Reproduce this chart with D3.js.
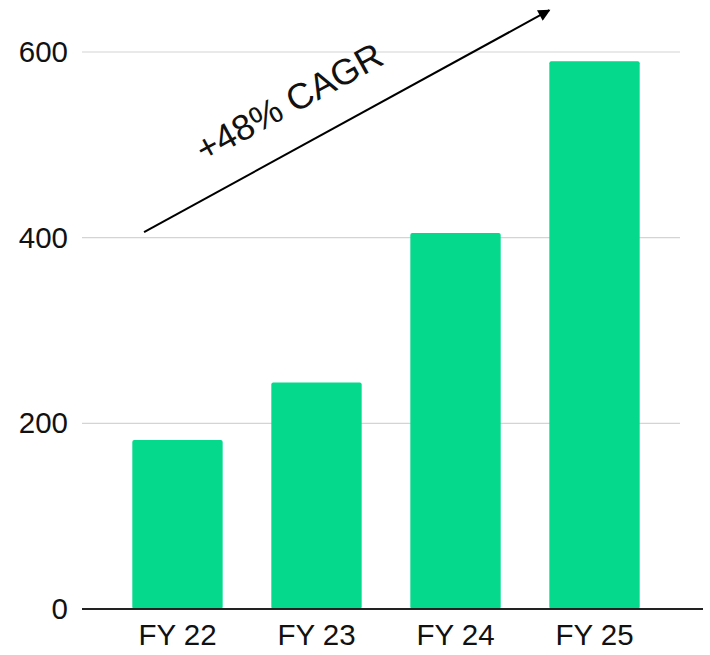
<!DOCTYPE html>
<html>
<head>
<meta charset="utf-8">
<script src="https://cdn.jsdelivr.net/npm/d3@7"></script>
<style>
  html, body { margin: 0; padding: 0; background: #ffffff; }
  svg { display: block; font-family: "Liberation Sans", Arial, Helvetica, sans-serif; }
</style>
</head>
<body>
<svg id="chart" width="710" height="655"></svg>
<script>
// Fiscal years and revenue values
const categories = ["FY 22", "FY 23", "FY 24", "FY 25"];
const values = [182, 244, 405, 590];
const yTicks = [0, 200, 400, 600];
const growthLabel = "+48% CAGR";

const svg = d3.select("#chart");

const x = d3.scaleBand()
  .domain(categories)
  .range([92, 680])
  .paddingInner(0.35)
  .paddingOuter(0.29);

const y = d3.scaleLinear()
  .domain([0, 600])
  .range([609, 52]);

const gridLeft = 82, gridRight = 680;

// Horizontal gridlines
svg.append("g")
  .selectAll("line")
  .data(yTicks.filter(d => d !== 0))
  .join("line")
  .attr("x1", gridLeft)
  .attr("x2", gridRight)
  .attr("y1", d => y(d))
  .attr("y2", d => y(d))
  .attr("stroke", "#d4d4d4")
  .attr("stroke-width", 1.2);

// Y-axis tick labels
const yAxis = d3.axisLeft(y).tickValues(yTicks).tickSize(0).tickPadding(0);
const yg = svg.append("g")
  .attr("transform", "translate(68,0)")
  .call(yAxis);
yg.select(".domain").remove();
yg.selectAll("text")
  .attr("font-size", 29.5)
  .attr("fill", "#111")
  .attr("font-family", "Liberation Sans, Arial, sans-serif");

// Bars
svg.append("g")
  .selectAll("rect")
  .data(categories.map((c, i) => ({ c, v: values[i] })))
  .join("rect")
  .attr("x", d => x(d.c))
  .attr("width", x.bandwidth())
  .attr("y", d => y(d.v))
  .attr("height", d => y(0) - y(d.v))
  .attr("rx", 2)
  .attr("fill", "#05d98b");

// Baseline
svg.append("line")
  .attr("x1", gridLeft)
  .attr("x2", 703)
  .attr("y1", y(0))
  .attr("y2", y(0))
  .attr("stroke", "#222")
  .attr("stroke-width", 2);

// X-axis labels
const xAxis = d3.axisBottom(x).tickSize(0).tickPadding(0);
const xg = svg.append("g")
  .attr("transform", `translate(0,${y(0) + 15})`)
  .call(xAxis);
xg.select(".domain").remove();
xg.selectAll("text")
  .attr("font-size", 29.5)
  .attr("fill", "#111")
  .attr("font-family", "Liberation Sans, Arial, sans-serif");

// Growth arrow
const defs = svg.append("defs");
defs.append("marker")
  .attr("id", "arrowhead")
  .attr("viewBox", "0 0 10 10")
  .attr("refX", 9)
  .attr("refY", 5)
  .attr("markerWidth", 7)
  .attr("markerHeight", 6)
  .attr("markerUnits", "strokeWidth")
  .attr("orient", "auto")
  .append("path")
  .attr("d", "M0,0 L10,5 L0,10 z")
  .attr("fill", "#000");

const ax1 = x("FY 22") + x.bandwidth() * 0.13;
const ay1 = y(406);
const ax2 = x("FY 25");
const ay2 = y(645);

svg.append("line")
  .attr("x1", ax1)
  .attr("y1", ay1)
  .attr("x2", ax2)
  .attr("y2", ay2)
  .attr("stroke", "#000")
  .attr("stroke-width", 2)
  .attr("marker-end", "url(#arrowhead)");

const angle = Math.atan2(ay2 - ay1, ax2 - ax1) * 180 / Math.PI;
svg.append("text")
  .attr("transform", `translate(289,102) rotate(${angle})`)
  .attr("text-anchor", "middle")
  .attr("dominant-baseline", "central")
  .attr("font-size", 36)
  .attr("fill", "#111")
  .text(growthLabel);
</script>
</body>
</html>
